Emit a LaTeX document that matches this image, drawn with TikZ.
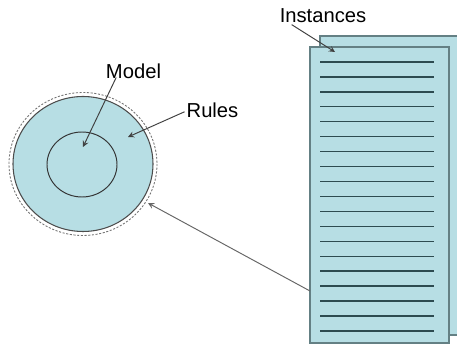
\documentclass[tikz,border=0pt]{standalone}
\usepackage{fontspec}
\setmainfont{Liberation Sans}
\usetikzlibrary{arrows.meta}
\definecolor{paleblue}{RGB}{183,222,228}
\definecolor{sheetedge}{RGB}{100,128,132}
\definecolor{sheetrule}{RGB}{45,75,80}
\tikzset{
  lbl/.style={inner sep=1pt, font=\fontsize{11.5}{13}\selectfont},
  sheet/.style={fill=paleblue, draw=sheetedge, line width=0.75pt},
  rule/.style={draw=sheetrule, line width=0.75pt},
  pointer/.style={->, draw=black!75, line width=0.55pt}
}

\begin{document}
\begin{tikzpicture}[>=stealth, x=0.02cm, y=-0.02cm]
  \useasboundingbox (0,0) rectangle (457,347);
  % rules ring and model core
  \draw[black!55, dash pattern=on 1.2pt off 0.9pt, line width=0.5pt] (83,164) ellipse (74 and 71.5);
  \draw[fill=paleblue, draw=black!70, line width=0.6pt] (83,164) ellipse (70 and 67.5);
  \draw[draw=black!80, line width=0.55pt] (82,164.5) ellipse (35 and 32.5);
  \coordinate (core) at (83,147);
  \coordinate (ring) at (128,137);
  \coordinate (rim) at (148,203);
  % instance sheets
  \begin{scope}
    \clip (0,0) rectangle (457,347);
    \draw[sheet] (320,36) rectangle (470,335);
    \draw[sheet] (310,47) rectangle (449,343);
  \end{scope}
  \foreach \i in {0,...,18}
    \draw[rule] (320,{62+\i*14.94}) -- (434,{62+\i*14.94});
  \coordinate (firstrow) at (335,52);
  \coordinate (sheetside) at (310,291);
  % labels
  \node[lbl] (model) at (133.5,71.5) {Model};
  \node[lbl] (rules) at (212.5,110) {Rules};
  \node[lbl] (instances) at (323,15.5) {Instances};
  \draw[pointer] ([xshift=7pt,yshift=2pt]model.south west) -- (core);
  \draw[pointer] ([yshift=-1pt]rules.west) -- (ring);
  \draw[pointer] ([xshift=8pt]instances.south west) -- (firstrow);
  \draw[pointer, draw=black!60] (sheetside) -- (rim);
\end{tikzpicture}
\end{document}
